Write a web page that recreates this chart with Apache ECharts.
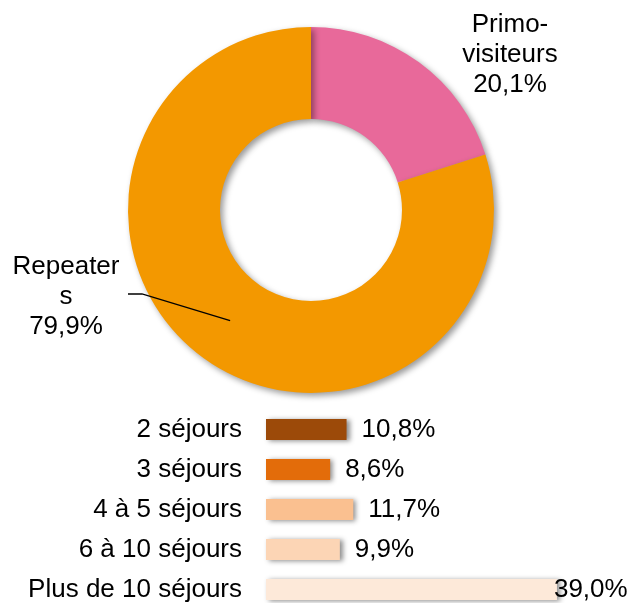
<!DOCTYPE html>
<html>
<head>
<meta charset="utf-8">
<script src="https://cdn.jsdelivr.net/npm/echarts@6/dist/echarts.min.js"></script>
<style>
  html, body { margin: 0; padding: 0; background: #fff; }
  #myChart { width: 632px; height: 603px; }
</style>
</head>
<body>
<div id="myChart"></div>
<script>
const pieNames = ['Primo-\nvisiteurs', 'Repeater\ns'];
const pieValues = [20.1, 79.9];
const pieColors = ['#E8699A', '#F39800'];

const stayCategories = ['2 séjours', '3 séjours', '4 à 5 séjours', '6 à 10 séjours', 'Plus de 10 séjours'];
const stayValues = [10.8, 8.6, 11.7, 9.9, 39.0];
const stayColors = ['#9C4A09', '#E36C0A', '#FAC090', '#FCD5B5', '#FDE9D9'];

const font = "'Liberation Sans', Arial, sans-serif";
const fontSize = 26;
const pct = (v) => v.toFixed(1).replace('.', ',') + '%';

// donut geometry
const cx = 311, cy = 210, rIn = 91, rOut = 183;
const total = pieValues.reduce((a, b) => a + b, 0);

// leader line for the Repeaters label: ends mid-ring at the slice's middle angle
const midAngle = 2 * Math.PI * (pieValues[0] + pieValues[1] / 2) / total;
const rMid = (rIn + rOut) / 2;
const leaderEnd = [cx + rMid * Math.sin(midAngle), cy - rMid * Math.cos(midAngle)];

const mychart = echarts.init(document.getElementById('myChart'));

const options = {
  animation: false,
  textStyle: { fontFamily: font },
  grid: {
    left: 266,
    top: 409.5,
    width: 7.46 * 40,
    height: 200,
    outerBoundsMode: 'none',
  },
  xAxis: {
    type: 'value',
    min: 0,
    max: 40,
    show: false,
  },
  yAxis: {
    type: 'category',
    inverse: true,
    data: stayCategories,
    axisLine: { show: false },
    axisTick: { show: false },
    axisLabel: {
      color: '#000',
      fontSize: fontSize,
      fontFamily: font,
      margin: 24,
    },
  },
  graphic: [
    {
      type: 'polyline',
      z: 100,
      shape: { points: [[128, 294], [142, 294], leaderEnd] },
      style: { stroke: '#000', lineWidth: 1.3, fill: null },
    },
  ],
  series: [
    {
      type: 'pie',
      center: [cx, cy],
      radius: [rIn, rOut],
      startAngle: 90,
      clockwise: true,
      data: pieValues.map((v, i) => ({
        name: pieNames[i],
        value: v,
        itemStyle: {
          color: pieColors[i],
          shadowBlur: 6,
          shadowOffsetX: 3,
          shadowOffsetY: 3,
          shadowColor: 'rgba(0,0,0,0.4)',
        },
      })),
      label: {
        show: true,
        position: 'outside',
        color: '#000',
        fontSize: fontSize,
        lineHeight: 30,
        fontFamily: font,
        align: 'center',
        formatter: (p) => p.name + '\n' + pct(p.value),
      },
      labelLine: { show: false },
      labelLayout: function (params) {
        if (params.dataIndex === 0) {
          return { x: 510, y: 55, align: 'center', verticalAlign: 'middle' };
        }
        return { x: 66, y: 297, align: 'center', verticalAlign: 'middle' };
      },
    },
    {
      type: 'bar',
      barWidth: 21,
      data: stayValues.map((v, i) => ({
        value: v,
        itemStyle: { color: stayColors[i] },
        label: i === stayValues.length - 1 ? { distance: -3 } : undefined,
      })),
      itemStyle: {
        shadowBlur: 5,
        shadowOffsetX: 3,
        shadowOffsetY: 1,
        shadowColor: 'rgba(0,0,0,0.45)',
      },
      label: {
        show: true,
        position: 'right',
        distance: 15,
        color: '#000',
        fontSize: fontSize,
        fontFamily: font,
        formatter: (p) => pct(p.value),
      },
    },
  ],
};

mychart.setOption(options);
</script>
</body>
</html>
